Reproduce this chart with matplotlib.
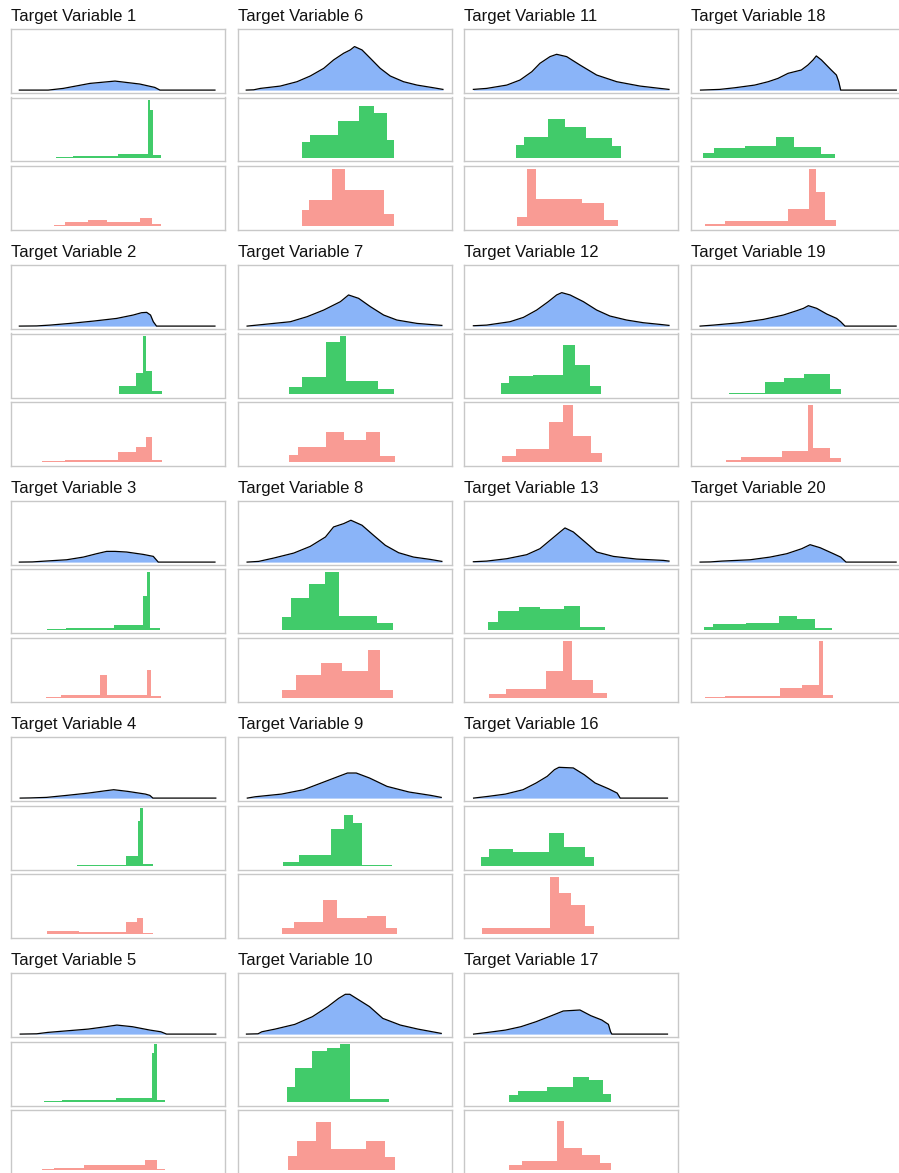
import matplotlib
import matplotlib.pyplot as plt
matplotlib.use('Agg')

plt.rcParams['font.family'] = ['Liberation Sans', 'DejaVu Sans']

# variables shown in each column, top to bottom
columns = [[1, 2, 3, 4, 5], [6, 7, 8, 9, 10], [11, 12, 13, 16, 17], [18, 19, 20]]

# density curve per variable (x on a 0-100 scale, y as % of the shared max)
dens_x = {
    1: [3.9, 17.4, 24.4, 36.9, 48.6, 60.2, 67.2, 69.6, 95.3],
    2: [3.9, 12.0, 18.2, 27.6, 38.5, 49.4, 57.1, 61.0, 63.4, 65.2, 66.5, 68.0, 95.3],
    3: [3.9, 10.0, 15.9, 26.0, 33.8, 40.0, 44.7, 48.6, 54.0, 61.8, 66.5, 68.8, 95.3],
    4: [4.3, 9.0, 16.6, 25.9, 36.1, 44.3, 48.0, 54.6, 62.8, 64.9, 66.3, 95.7],
    5: [4.3, 12.0, 17.2, 24.8, 36.1, 44.3, 49.5, 56.7, 64.9, 70.0, 72.7, 95.7],
    6: [4.0, 7.5, 10.6, 19.9, 27.7, 33.9, 40.2, 44.8, 49.5, 52.6, 54.6, 58.1, 62.0,
        66.6, 71.3, 77.5, 83.8, 91.5, 95.9],
    7: [4.4, 9.0, 24.6, 32.4, 40.2, 48.0, 51.8, 56.5, 62.0, 68.2, 74.4, 83.8, 95.4],
    8: [4.4, 9.8, 16.8, 26.2, 33.9, 41.0, 44.8, 49.5, 52.9, 58.1, 63.5, 69.0, 75.2,
        82.2, 90.0, 95.4],
    9: [4.5, 8.2, 20.5, 30.8, 39.0, 47.2, 51.3, 55.4, 61.6, 69.8, 80.1, 90.3, 95.1],
    10: [4.1, 9.5, 11.3, 17.5, 26.7, 34.9, 42.1, 47.2, 50.3, 52.4, 55.4, 61.6, 67.8,
         76.0, 84.2, 95.1],
    11: [4.2, 10.4, 19.8, 26.0, 31.5, 35.3, 40.0, 43.1, 47.8, 54.0, 61.8, 71.2, 82.1,
         91.4, 95.6],
    12: [4.2, 10.4, 21.3, 27.6, 33.8, 39.2, 43.1, 45.5, 49.4, 55.6, 61.8, 68.0, 75.8,
         83.6, 91.4, 95.6],
    13: [4.2, 10.4, 19.8, 29.1, 35.3, 40.0, 44.7, 47.0, 50.9, 56.4, 61.8, 69.6, 80.5,
         93.0, 95.6],
    16: [4.3, 11.0, 19.2, 27.4, 33.5, 38.7, 42.1, 44.2, 50.9, 56.0, 61.1, 67.3, 71.4,
         72.8, 94.9],
    17: [4.3, 11.0, 19.2, 26.4, 33.5, 40.7, 46.2, 54.0, 59.1, 64.2, 67.3, 68.3, 68.9, 94.9],
    18: [4.4, 13.4, 20.4, 29.7, 36.0, 40.6, 45.3, 51.5, 54.6, 57.0, 58.5, 60.9, 65.5,
         67.9, 69.0, 69.9, 95.9],
    19: [4.2, 10.4, 22.9, 33.8, 43.1, 49.4, 52.5, 54.8, 58.7, 63.4, 68.0, 69.9, 71.9, 95.8],
    20: [4.2, 9.0, 14.3, 27.6, 36.9, 44.7, 51.7, 55.6, 60.3, 66.5, 69.9, 72.4, 95.8],
}
dens_y = {
    1: [0, 0, 2.9, 11.5, 15.5, 10.4, 4.6, 0, 0],
    2: [0, 0.3, 1.7, 4.6, 8.6, 13.2, 19.0, 23.0, 23.6, 19.0, 7.5, 0, 0],
    3: [0, 0.3, 1.7, 4.0, 8.6, 14.4, 18.4, 18.4, 17.3, 13.2, 9.8, 0, 0],
    4: [0, 0.3, 1.2, 4.6, 8.6, 12.7, 14.4, 11.5, 6.9, 4.6, 0, 0],
    5: [0, 0.5, 2.9, 5.2, 8.6, 12.7, 15.5, 12.7, 6.9, 4.0, 0, 0],
    6: [0, 0.5, 2.9, 6.9, 14.4, 24.2, 37.4, 51.8, 63.3, 69.0, 74.8, 69.0, 54.6,
        37.4, 24.2, 14.4, 8.6, 4.0, 1.2],
    7: [0, 1.7, 7.5, 16.1, 27.6, 42.0, 53.5, 47.7, 33.4, 19.0, 10.4, 4.6, 1.2],
    8: [0, 1.2, 6.9, 15.5, 27.0, 43.1, 60.4, 66.1, 71.9, 63.3, 46.0, 28.8, 16.1,
        8.6, 4.6, 1.2],
    9: [0, 2.3, 6.9, 14.4, 25.9, 37.4, 43.1, 43.1, 34.5, 20.1, 10.4, 4.6, 1.2],
    10: [0, 0.5, 4.0, 8.6, 16.7, 29.9, 47.2, 61.5, 68.4, 68.4, 61.5, 47.2, 27.0,
         15.5, 8.6, 1.2],
    11: [1.2, 2.9, 8.6, 17.3, 31.6, 46.0, 57.5, 61.5, 57.5, 43.1, 25.9, 14.4, 6.9,
         2.9, 1.2],
    12: [0.6, 1.7, 7.5, 15.0, 27.6, 42.0, 53.5, 57.5, 53.5, 42.0, 27.6, 17.3, 10.4,
         5.8, 2.9, 1.2],
    13: [0.6, 1.7, 5.8, 12.7, 23.0, 37.4, 51.8, 58.7, 51.8, 34.5, 17.3, 9.8, 5.2,
         2.9, 1.7],
    16: [0, 2.9, 6.9, 14.4, 25.9, 37.4, 48.9, 52.9, 51.8, 40.2, 25.9, 16.1, 8.6, 0, 0],
    17: [0, 2.9, 6.9, 12.7, 21.3, 31.6, 39.7, 41.4, 31.6, 24.2, 16.7, 4.0, 0, 0],
    18: [0, 1.2, 4.0, 8.6, 14.4, 20.1, 28.8, 34.5, 43.1, 51.8, 58.7, 51.8, 34.5,
         25.9, 14.4, 0, 0],
    19: [0, 1.7, 5.8, 11.5, 19.0, 26.5, 30.5, 35.1, 30.5, 20.7, 13.2, 7.5, 0, 0],
    20: [0, 0.3, 1.7, 4.0, 8.6, 14.4, 23.0, 29.9, 24.7, 14.4, 8.6, 0, 0],
}

# first group histogram: bin edges and heights
grp1_edges = {
    1: [21.0, 29.1, 50.1, 63.8, 64.9, 66.2, 70.1],
    2: [50.6, 58.2, 61.8, 62.9, 65.7, 70.4],
    3: [16.7, 25.7, 48.1, 61.5, 63.4, 64.9, 69.6],
    4: [31.0, 53.6, 59.3, 60.4, 61.8, 66.3],
    5: [15.2, 23.8, 49.1, 65.9, 66.9, 68.0, 72.1],
    6: [30.0, 33.9, 46.7, 56.5, 63.5, 69.8, 73.2],
    7: [23.8, 30.1, 41.4, 47.6, 50.8, 65.5, 72.9],
    8: [20.7, 24.9, 33.2, 40.9, 47.2, 65.1, 72.6],
    9: [21.1, 28.7, 43.7, 49.9, 54.0, 58.1, 71.9],
    10: [23.0, 26.7, 34.9, 41.5, 47.6, 52.4, 70.8],
    11: [24.1, 27.9, 39.2, 47.0, 56.8, 68.8, 73.0],
    12: [17.0, 21.0, 32.2, 46.2, 51.7, 58.7, 63.8],
    13: [11.2, 15.9, 25.5, 35.3, 46.6, 54.0, 65.7],
    16: [7.6, 11.7, 22.9, 39.7, 46.4, 56.4, 60.7],
    17: [20.9, 24.9, 38.7, 50.9, 58.1, 64.6, 68.3],
    18: [5.6, 10.7, 25.4, 39.5, 48.1, 60.9, 67.4],
    19: [17.9, 34.6, 43.6, 52.8, 64.9, 69.9],
    20: [5.8, 10.4, 25.7, 41.3, 49.4, 57.9, 65.7],
}
grp1_counts = {
    1: [1.0, 3.5, 7.0, 100, 83, 4.6],
    2: [13.9, 35.3, 100, 40, 4.0],
    3: [1.2, 3.5, 8.7, 59, 99.4, 3.5],
    4: [1.7, 16.2, 77, 100, 2.3],
    5: [1.2, 2.9, 6.4, 83.8, 100, 2.9],
    6: [27.7, 39.3, 63.6, 90, 78, 30],
    7: [11.0, 29.5, 90, 100, 22.5, 8.7],
    8: [22.5, 54.9, 79.2, 99.4, 24.3, 11.6],
    9: [6.4, 19.0, 64.2, 88.4, 74, 1.7],
    10: [25.9, 59.2, 87.4, 93.2, 100, 4.6],
    11: [22.0, 35.8, 67, 53.8, 33.5, 20.2],
    12: [17.9, 30.6, 32.4, 84.4, 49.7, 13.9],
    13: [13.9, 32.9, 38.7, 35.8, 41.6, 4.0],
    16: [15.0, 28.9, 23.1, 57.2, 32.4, 15.0],
    17: [11.6, 18.5, 24.9, 43.4, 37.6, 13.3],
    18: [7.5, 16.2, 20.8, 36.4, 17.9, 6.4],
    19: [1.2, 20.8, 27.7, 34.1, 7.5],
    20: [5.2, 9.8, 11.6, 24.3, 17.9, 2.3],
}

# second group histogram: bin edges and heights
grp2_edges = {
    1: [20.1, 25.2, 36.1, 45.0, 60.2, 65.7, 70.1],
    2: [14.6, 25.2, 50.1, 58.2, 63.1, 65.7, 70.4],
    3: [16.3, 23.4, 41.6, 44.7, 63.4, 65.2, 70.1],
    4: [9.0, 17.0, 32.0, 53.6, 58.7, 61.8, 66.3],
    5: [14.6, 20.3, 34.1, 62.8, 68.0, 72.1],
    6: [30.0, 33.5, 44.1, 50.3, 68.2, 72.9],
    7: [23.8, 28.2, 41.4, 49.5, 60.1, 66.6, 73.3],
    8: [20.7, 27.2, 39.1, 48.7, 60.7, 66.3, 72.6],
    9: [20.5, 26.3, 40.0, 46.6, 60.6, 69.2, 74.3],
    10: [23.6, 27.7, 36.5, 43.5, 59.9, 68.8, 73.5],
    11: [24.8, 29.4, 33.5, 54.8, 65.2, 71.9],
    12: [17.4, 24.1, 39.7, 46.2, 50.9, 59.2, 64.1],
    13: [11.7, 19.5, 38.1, 46.2, 50.4, 60.3, 66.5],
    16: [8.4, 15.5, 40.1, 44.4, 49.9, 56.4, 60.7],
    17: [20.9, 26.8, 43.4, 46.4, 55.0, 63.2, 68.3],
    18: [6.7, 15.7, 45.3, 55.1, 58.5, 62.7, 67.9],
    19: [16.3, 23.4, 42.7, 54.5, 57.1, 64.9, 69.9],
    20: [6.5, 15.9, 41.6, 52.0, 59.9, 61.5, 66.2],
}
grp2_counts = {
    1: [1.7, 7.5, 11.6, 7.5, 15.0, 4.0],
    2: [1.7, 4.6, 17.3, 26.6, 43.9, 4.6],
    3: [1.7, 5.2, 41.0, 6.4, 49.1, 4.6],
    4: [1.2, 6.4, 4.0, 21.4, 27.7, 2.9],
    5: [2.3, 4.6, 8.7, 17.3, 2.3],
    6: [27.7, 46.2, 100, 63.6, 22.0],
    7: [13.3, 26.0, 52.6, 38.2, 52.6, 10.4],
    8: [14.5, 39.9, 61.8, 48.0, 84.4, 14.5],
    9: [10.4, 21.4, 58.7, 27.7, 31.6, 11.6],
    10: [24.3, 51.4, 83.2, 37.6, 51.4, 22.5],
    11: [16.2, 100, 47.4, 40.5, 11.6],
    12: [10.4, 23.1, 70.0, 100, 45.0, 16.2],
    13: [7.5, 16.2, 48.0, 100, 32.4, 8.7],
    16: [10.4, 11.6, 99.4, 72.3, 50.9, 14.5],
    17: [8.7, 15.6, 86.1, 38.7, 26.0, 12.7],
    18: [4.0, 9.8, 30.6, 100, 59.5, 10.4],
    19: [4.6, 9.2, 20.2, 100, 24.9, 7.5],
    20: [1.7, 4.6, 17.3, 23.7, 100, 6.4],
}

BLUE = '#8ab4f8'
GREEN = '#41cb6a'
SALMON = '#f99b94'
BORDER = '#c8c8c8'

W, H = 899, 1173
fig = plt.figure(figsize=(W / 100, H / 100), dpi=100)


def make_axes(left, top, w=214, h=64):
    ax = fig.add_axes([left / W, 1 - (top + h) / H, w / W, h / H])
    ax.set_xticks([])
    ax.set_yticks([])
    for s in ax.spines.values():
        s.set_color(BORDER)
        s.set_linewidth(1)
    ax.set_xlim(0, 100)
    return ax


for c, col in enumerate(columns):
    left = 11 + 226.7 * c
    for r, v in enumerate(col):
        top = 29 + 236 * r

        # density
        ax = make_axes(left, top)
        ax.fill_between(dens_x[v], dens_y[v], color=BLUE, lw=0)
        ax.plot(dens_x[v], dens_y[v], color='black', lw=0.9)
        ax.set_ylim(-5, 105)
        ax.set_title(f'Target Variable {v}', loc='left', pad=6, fontsize=12,
                     color='#111111')

        # first group
        ax = make_axes(left, top + 68.5)
        ax.stairs(grp1_counts[v], grp1_edges[v], fill=True, color=GREEN, lw=0)
        ax.set_ylim(-6.5, 104.5)

        # second group
        ax = make_axes(left, top + 137)
        ax.stairs(grp2_counts[v], grp2_edges[v], fill=True, color=SALMON, lw=0)
        ax.set_ylim(-6.5, 104.5)

fig.savefig('out.png', dpi=100)
